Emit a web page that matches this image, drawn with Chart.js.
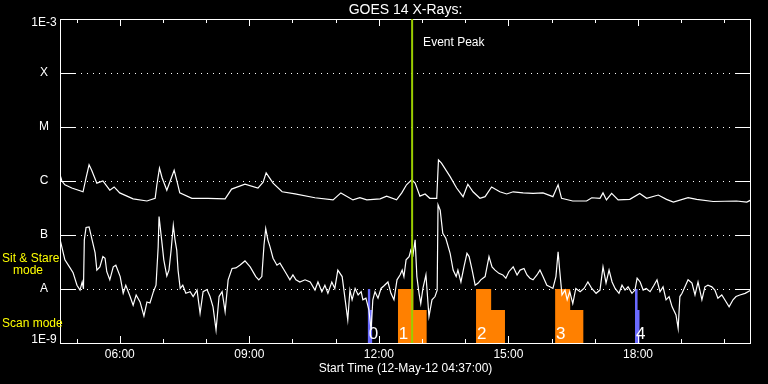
<!DOCTYPE html>
<html>
<head>
<meta charset="utf-8">
<title>GOES 14 X-Rays</title>
<script src="https://cdn.jsdelivr.net/npm/chart.js@4.4.1/dist/chart.umd.min.js"></script>
<style>
  html, body { margin: 0; padding: 0; background: #000; }
</style>
</head>
<body>
<canvas id="goesChart" width="768" height="384"></canvas>
<script>
// time axis in decimal hours (UT), flux as log10(W/m^2)
const startHour = 4 + 37 / 60;
const endHour = startHour + 16;
const classTicks = [-9, -8, -7, -6, -5, -4, -3];
const classLabels = ["1E-9", "A", "B", "C", "M", "X", "1E-3"];
const hourTicks = [6, 9, 12, 15, 18];

// 1-8 Angstrom channel
const longChannel = [
  [4.62,-5.89],[4.66,-6.00],[4.73,-6.07],[4.89,-6.13],[5.15,-6.20],[5.22,-5.94],[5.29,-5.70],[5.35,-5.80],
  [5.47,-6.04],[5.61,-6.00],[5.77,-6.17],[5.87,-6.11],[6.00,-6.22],[6.31,-6.33],[6.63,-6.37],[6.82,-6.32],
  [6.86,-6.07],[6.92,-5.76],[6.98,-5.94],[7.09,-6.17],[7.16,-6.02],[7.26,-5.80],[7.33,-6.02],[7.39,-6.22],
  [7.67,-6.32],[8.04,-6.32],[8.44,-6.33],[8.59,-6.15],[8.90,-6.06],[9.20,-6.13],[9.32,-6.02],[9.39,-5.85],
  [9.55,-6.04],[9.76,-6.20],[10.06,-6.24],[10.52,-6.31],[10.94,-6.35],[11.12,-6.22],[11.40,-6.35],[11.56,-6.31],
  [11.72,-6.35],[12.03,-6.33],[12.18,-6.28],[12.41,-6.35],[12.53,-6.22],[12.64,-6.07],[12.76,-5.98],[12.84,-6.04],
  [12.95,-6.28],[13.07,-6.24],[13.18,-6.32],[13.34,-6.32],[13.38,-5.61],[13.45,-5.67],[13.65,-5.92],[13.80,-6.13],
  [13.95,-6.29],[14.06,-6.06],[14.18,-6.20],[14.34,-6.32],[14.46,-6.29],[14.61,-6.11],[14.80,-6.20],[14.96,-6.24],
  [15.11,-6.20],[15.34,-6.22],[15.57,-6.23],[15.80,-6.22],[16.03,-6.29],[16.15,-6.07],[16.23,-6.32],[16.49,-6.37],
  [16.81,-6.37],[16.93,-6.31],[17.12,-6.32],[17.19,-6.22],[17.27,-6.35],[17.39,-6.23],[17.54,-6.35],[17.81,-6.34],
  [18.04,-6.23],[18.20,-6.32],[18.47,-6.26],[18.66,-6.34],[18.82,-6.39],[19.16,-6.31],[19.36,-6.34],[19.74,-6.38],
  [20.28,-6.37],[20.52,-6.39],[20.62,-6.35]
];

// 0.5-4 Angstrom channel
const shortChannel = [
  [4.62,-7.09],[4.73,-7.46],[4.85,-7.61],[4.92,-7.70],[5.01,-7.93],[5.08,-8.02],[5.13,-7.87],[5.16,-8.00],
  [5.18,-7.09],[5.22,-6.86],[5.29,-6.85],[5.36,-7.09],[5.43,-7.33],[5.47,-7.65],[5.54,-7.59],[5.61,-7.40],
  [5.66,-7.43],[5.70,-7.68],[5.77,-7.83],[5.85,-7.59],[5.91,-7.56],[6.01,-7.77],[6.08,-8.08],[6.14,-7.93],
  [6.24,-8.14],[6.31,-8.30],[6.38,-8.11],[6.47,-8.24],[6.56,-8.50],[6.63,-8.24],[6.70,-8.26],[6.78,-8.05],
  [6.84,-7.93],[6.89,-7.22],[6.91,-6.66],[6.97,-7.09],[7.02,-7.46],[7.09,-7.76],[7.14,-7.65],[7.19,-7.28],
  [7.24,-6.82],[7.28,-7.09],[7.32,-7.28],[7.35,-7.65],[7.40,-7.99],[7.46,-7.93],[7.53,-8.08],[7.63,-8.05],
  [7.70,-8.14],[7.79,-8.02],[7.86,-8.45],[7.93,-8.05],[8.02,-8.01],[8.09,-8.14],[8.16,-8.33],[8.23,-8.76],
  [8.30,-8.14],[8.37,-8.05],[8.44,-8.42],[8.51,-7.83],[8.60,-7.62],[8.69,-7.61],[8.78,-7.56],[8.90,-7.48],
  [9.02,-7.59],[9.15,-7.77],[9.22,-7.83],[9.29,-7.77],[9.34,-7.19],[9.38,-6.88],[9.43,-7.09],[9.48,-7.22],
  [9.55,-7.43],[9.64,-7.56],[9.71,-7.52],[9.83,-7.68],[9.94,-7.83],[10.01,-7.74],[10.08,-7.83],[10.17,-7.87],
  [10.29,-7.83],[10.41,-7.87],[10.52,-8.02],[10.59,-7.87],[10.68,-8.05],[10.75,-7.93],[10.82,-8.08],[10.91,-7.87],
  [10.98,-7.99],[11.05,-7.65],[11.15,-7.77],[11.22,-8.20],[11.28,-8.57],[11.33,-8.02],[11.38,-8.20],[11.45,-7.99],
  [11.52,-8.11],[11.59,-8.05],[11.63,-8.20],[11.70,-8.17],[11.77,-8.39],[11.82,-8.76],[11.86,-8.20],[11.91,-8.05],
  [11.98,-8.17],[12.05,-7.99],[12.12,-7.94],[12.21,-7.87],[12.28,-8.08],[12.35,-8.20],[12.42,-7.83],[12.49,-7.74],
  [12.54,-7.65],[12.58,-7.77],[12.63,-7.46],[12.70,-7.40],[12.74,-7.28],[12.79,-7.37],[12.84,-7.09],[12.88,-7.77],
  [12.93,-8.08],[12.97,-8.27],[13.02,-7.99],[13.09,-7.74],[13.16,-8.51],[13.23,-8.20],[13.30,-8.14],[13.35,-8.02],
  [13.37,-6.44],[13.42,-6.54],[13.48,-6.97],[13.55,-7.06],[13.65,-7.34],[13.72,-7.65],[13.79,-7.77],[13.83,-7.65],
  [13.90,-7.87],[13.97,-7.59],[14.04,-7.34],[14.09,-7.40],[14.16,-7.65],[14.23,-7.93],[14.30,-7.89],[14.36,-7.83],
  [14.46,-7.77],[14.55,-7.40],[14.62,-7.59],[14.69,-7.65],[14.78,-7.71],[14.87,-7.74],[14.94,-7.80],[15.01,-7.68],
  [15.11,-7.59],[15.20,-7.74],[15.27,-7.65],[15.36,-7.62],[15.43,-7.74],[15.50,-7.80],[15.57,-7.83],[15.66,-7.74],
  [15.73,-7.65],[15.80,-7.77],[15.89,-7.93],[15.96,-7.96],[16.03,-7.99],[16.10,-7.77],[16.15,-7.31],[16.19,-7.68],
  [16.24,-8.11],[16.31,-8.02],[16.36,-8.20],[16.42,-8.05],[16.49,-8.27],[16.56,-7.99],[16.66,-8.05],[16.75,-7.99],
  [16.84,-7.87],[16.93,-7.99],[17.03,-8.08],[17.12,-8.02],[17.19,-7.59],[17.26,-7.89],[17.33,-7.65],[17.40,-7.87],
  [17.47,-7.99],[17.56,-8.08],[17.63,-7.93],[17.70,-8.02],[17.77,-7.96],[17.86,-8.08],[17.93,-8.02],[17.98,-7.80],
  [18.05,-7.87],[18.12,-8.02],[18.19,-7.99],[18.28,-8.05],[18.37,-7.93],[18.44,-7.83],[18.51,-8.05],[18.58,-7.96],
  [18.65,-8.20],[18.72,-8.14],[18.79,-8.33],[18.88,-8.48],[18.93,-8.73],[18.97,-8.14],[19.02,-8.08],[19.16,-7.83],
  [19.25,-7.89],[19.32,-8.11],[19.39,-7.87],[19.48,-8.20],[19.55,-7.96],[19.62,-7.93],[19.71,-7.96],[19.78,-8.02],
  [19.85,-8.17],[19.94,-8.11],[20.01,-8.20],[20.11,-8.33],[20.20,-8.20],[20.27,-8.14],[20.36,-8.11],[20.48,-8.08],
  [20.62,-8.02]
];

// observing blocks: full height until blockMid, then half height until blockEnd
const blockStart = [11.74, 12.44, 14.25, 16.08, 17.93];
const blockMid = [11.80, 12.80, 14.60, 16.43, 17.99];
const blockEnd = [11.85, 13.11, 14.92, 16.74, 18.04];
const blockMode = ["scan", "stare", "stare", "stare", "scan"];
const blockLabels = ["0", "1", "2", "3", "4"];
const fullLevel = -8;
const halfLevel = -8.39;
const eventPeak = 12.77;

const modeColors = { scan: "#6a6aff", stare: "#ff8000" };
const font = "Liberation Sans, Arial, sans-serif";

function hhmm(h) {
  return String(h).padStart(2, "0") + ":00";
}

const datasets = [
  {
    label: "long",
    data: longChannel.map(p => ({ x: p[0], y: p[1] })),
    borderColor: "#fff",
    borderWidth: 1.2,
    pointRadius: 0,
    order: 0
  },
  {
    label: "short",
    data: shortChannel.map(p => ({ x: p[0], y: p[1] })),
    borderColor: "#fff",
    borderWidth: 1.2,
    pointRadius: 0,
    order: 0
  }
];

blockStart.forEach((s, i) => {
  datasets.push({
    label: "block " + blockLabels[i],
    data: [
      { x: s, y: fullLevel },
      { x: blockMid[i], y: fullLevel },
      { x: blockMid[i], y: halfLevel },
      { x: blockEnd[i], y: halfLevel }
    ],
    borderWidth: 0,
    borderColor: "rgba(0,0,0,0)",
    backgroundColor: modeColors[blockMode[i]],
    pointRadius: 0,
    fill: "start",
    order: 1
  });
});

// IDL-style frame, class lines, tick marks and labels
const goesFrame = {
  id: "goesFrame",
  beforeDatasetsDraw(chart) {
    const { ctx, chartArea: a, scales: { y } } = chart;
    ctx.save();
    ctx.strokeStyle = "#fff";
    ctx.lineWidth = 1;
    classTicks.slice(1, -1).forEach(v => {
      const py = Math.round(y.getPixelForValue(v)) + 0.5;
      ctx.setLineDash([1, 5]);
      ctx.beginPath();
      ctx.moveTo(a.left + 15, py);
      ctx.lineTo(a.right - 15, py);
      ctx.stroke();
      ctx.setLineDash([]);
      ctx.beginPath();
      ctx.moveTo(a.left, py);
      ctx.lineTo(a.left + 15, py);
      ctx.moveTo(a.right - 15, py);
      ctx.lineTo(a.right, py);
      ctx.stroke();
    });
    ctx.restore();
  },
  afterDatasetsDraw(chart) {
    const { ctx, chartArea: a, scales: { x, y } } = chart;
    ctx.save();
    ctx.strokeStyle = "#fff";
    ctx.lineWidth = 1;
    ctx.strokeRect(a.left + 0.5, a.top + 0.5, a.right - a.left - 1, a.bottom - a.top);

    // hourly ticks, longer every 3 hours
    ctx.beginPath();
    for (let h = Math.ceil(startHour); h <= endHour; h++) {
      const px = Math.round(x.getPixelForValue(h)) + 0.5;
      const len = h % 3 === 0 ? 7 : 4;
      ctx.moveTo(px, a.top);
      ctx.lineTo(px, a.top + len);
      ctx.moveTo(px, a.bottom);
      ctx.lineTo(px, a.bottom - len);
    }
    ctx.stroke();

    // block numbers
    ctx.fillStyle = "#fff";
    ctx.font = "17px " + font;
    ctx.textAlign = "left";
    ctx.textBaseline = "alphabetic";
    blockStart.forEach((s, i) => {
      ctx.fillText(blockLabels[i], x.getPixelForValue(s) + 1, a.bottom - 4);
    });

    // event peak marker
    const ex = x.getPixelForValue(eventPeak);
    ctx.strokeStyle = "#9acd00";
    ctx.lineWidth = 2;
    ctx.beginPath();
    ctx.moveTo(ex, a.top);
    ctx.lineTo(ex, a.bottom);
    ctx.stroke();
    ctx.font = "12px " + font;
    ctx.textBaseline = "middle";
    ctx.fillText("Event Peak", ex + 11, 43);

    // axis labels
    ctx.textAlign = "center";
    classTicks.forEach((v, i) => {
      let py = y.getPixelForValue(v);
      py = Math.min(Math.max(py, a.top + 4), a.bottom - 3);
      ctx.fillText(classLabels[i], 44, py);
    });
    hourTicks.forEach(h => {
      ctx.fillText(hhmm(h), x.getPixelForValue(h), 355);
    });
    ctx.fillText("Start Time (12-May-12 04:37:00)", (a.left + a.right) / 2, 369);
    ctx.font = "14px " + font;
    ctx.fillText("GOES 14 X-Rays:", (a.left + a.right) / 2, 10);

    // mode legend on the left
    ctx.fillStyle = "#ffff00";
    ctx.font = "12px " + font;
    ctx.textAlign = "left";
    ctx.fillText("Sit & Stare", 2, 259);
    ctx.fillText("mode", 13, 271);
    ctx.fillText("Scan mode", 2, 324);
    ctx.restore();
  }
};

new Chart(document.getElementById("goesChart"), {
  type: "line",
  data: { datasets: datasets },
  options: {
    responsive: false,
    devicePixelRatio: 1,
    animation: false,
    layout: { padding: { left: 60, right: 17, top: 19, bottom: 41 } },
    plugins: {
      legend: { display: false },
      tooltip: { enabled: false }
    },
    elements: { line: { tension: 0 } },
    scales: {
      x: { type: "linear", min: startHour, max: endHour, display: false },
      y: { type: "linear", min: -9, max: -3, display: false }
    }
  },
  plugins: [goesFrame]
});
</script>
</body>
</html>
